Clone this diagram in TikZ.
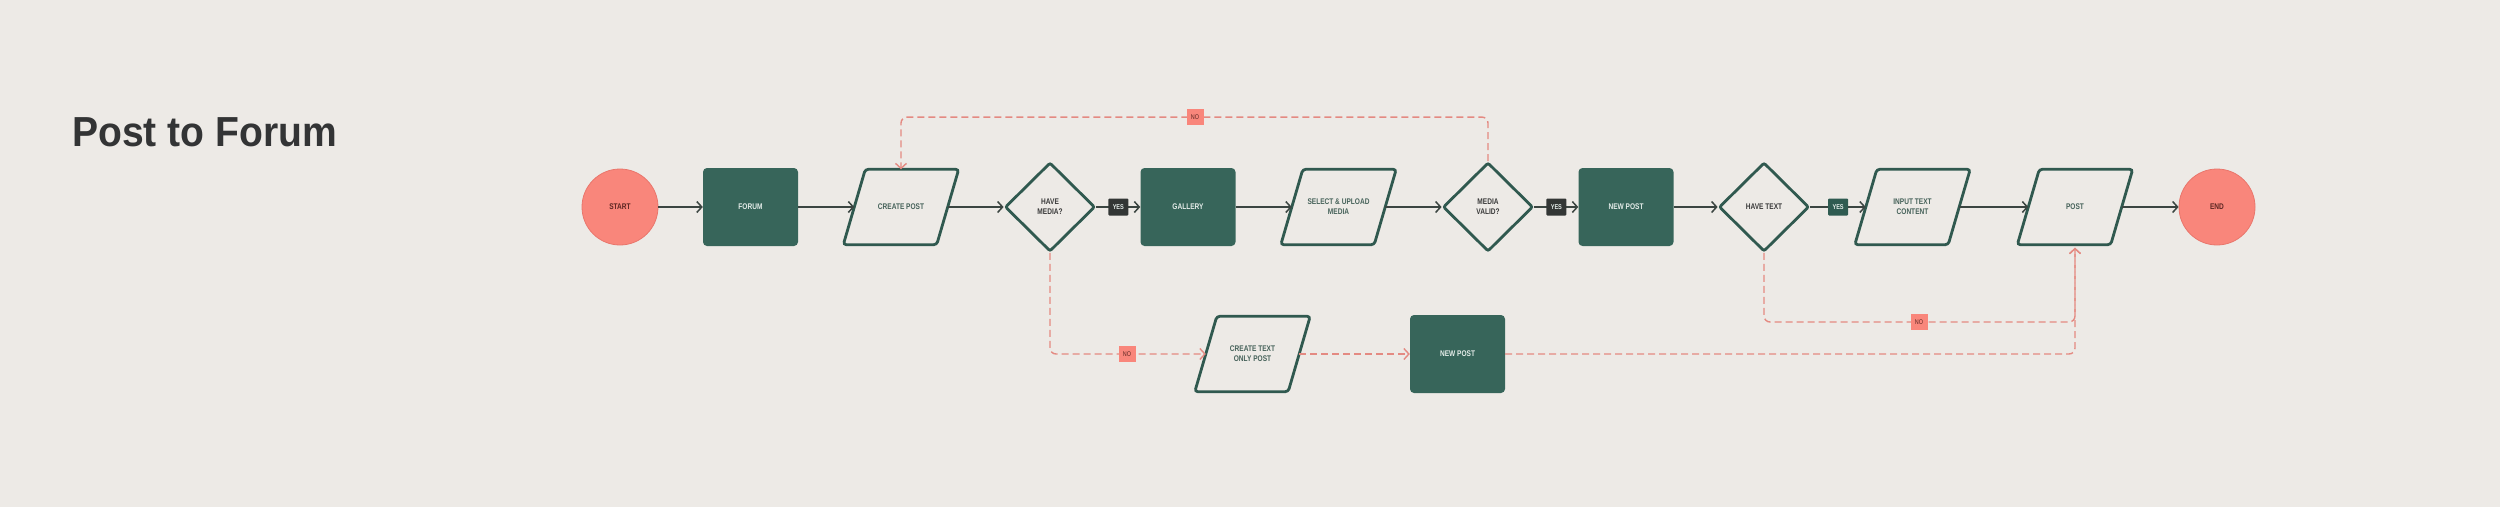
\documentclass[tikz,border=0pt]{standalone}
\usepackage{fontspec}
\newfontfamily\tight[FakeStretch=0.8]{Liberation Sans}
\newfontfamily\titlefont[FakeStretch=0.93]{Liberation Sans}
\usetikzlibrary{shapes.geometric,arrows.meta}
\definecolor{bg}{HTML}{EDEAE6}
\definecolor{salmon}{HTML}{F9867B}
\definecolor{salmonedge}{HTML}{E9766C}
\definecolor{dgreen}{HTML}{37655A}
\definecolor{ogreen}{HTML}{30594F}
\definecolor{lgtext}{HTML}{E4ECE9}
\definecolor{gtext}{HTML}{46625A}
\definecolor{dtext}{HTML}{3A3A3A}
\definecolor{rtext}{HTML}{5C2622}
\definecolor{arr}{HTML}{3B4541}
\definecolor{dashc}{HTML}{E48A82}
\definecolor{yesdark}{HTML}{333635}
\definecolor{yesgreen}{HTML}{2F5B51}
\definecolor{titlec}{HTML}{333435}
\begin{document}
\begin{tikzpicture}[x=1pt,y=-1pt,
  lbl/.style={font=\tight\bfseries\fontsize{8.2}{10}\selectfont, align=center, inner sep=0pt},
  terminal/.style={lbl, circle, fill=salmon, draw=salmonedge, line width=0.8pt, minimum size=76pt, text=rtext},
  procbox/.style={lbl, rectangle, fill=dgreen, rounded corners=4pt, minimum width=95pt, minimum height=78pt, text=lgtext},
  iobox/.style={lbl, rectangle, minimum width=93pt, minimum height=75pt, text=gtext},
  ioline/.style={draw=ogreen, line width=2.8pt, rounded corners=3pt},
  decision/.style={lbl, diamond, minimum width=90pt, minimum height=89pt, draw=ogreen, line width=2.8pt, rounded corners=2pt, text=dtext},
  flow/.style={draw=arr, line width=1.5pt, -{Straight Barb[length=5pt,width=11pt]}},
  dflow/.style={draw=dashc, line width=1.4pt, dash pattern=on 7pt off 4pt, -{Straight Barb[length=5pt,width=11pt]}},
  yeslbl/.style={fill=yesdark, text=lgtext, font=\tight\bfseries\fontsize{7}{8}\selectfont, minimum width=20pt, minimum height=17pt, inner sep=0pt, rounded corners=1pt},
  nolbl/.style={fill=salmon, text=rtext, font=\tight\fontsize{6.8}{8}\selectfont, minimum width=17pt, minimum height=16pt, inner sep=0pt}
]
\fill[bg] (0,0) rectangle (2500,507);
\useasboundingbox (0,0) rectangle (2500,507);

\node[anchor=base west, font=\titlefont\bfseries\fontsize{42}{50}\selectfont, text=titlec, inner sep=0pt] (title) at (72,146) {Post to Forum};

% main row
\node[terminal] (start) at (620,207) {START};
\node[procbox] (forum) at (750.5,207) {FORUM};
\node[iobox] (cpost) at (901,207) {CREATE POST};
\node[decision] (hmedia) at (1050,207) {HAVE\\MEDIA?};
\node[procbox] (gallery) at (1188,207) {GALLERY};
\node[iobox] (select) at (1338.5,207) {SELECT \& UPLOAD\\MEDIA};
\node[decision] (mvalid) at (1488,207) {MEDIA\\VALID?};
\node[procbox] (newpost) at (1626,207) {NEW POST};
\node[decision] (htext) at (1764,207) {HAVE TEXT};
\node[iobox] (input) at (1912.5,207) {INPUT TEXT\\CONTENT};
\node[iobox] (post) at (2075,207) {POST};
\node[terminal] (end) at (2217,207) {END};

% lower row
\node[iobox] (ctext) at (1252.5,354) {CREATE TEXT\\ONLY POST};
\node[procbox] (np2) at (1457.5,354) {NEW POST};

% parallelogram outlines of the input/output nodes
\foreach \n in {cpost,select,input,post,ctext}
  \draw[ioline] ([xshift=-11pt]\n.south west) -- ([xshift=11pt]\n.north west)
     -- ([xshift=11pt]\n.north east) -- ([xshift=-11pt]\n.south east) -- cycle;

% solid flow
\draw[flow] (start.east) -- (forum.west);
\draw[flow] (forum.east) -- (cpost.west);
\draw[flow] (cpost.east) -- (hmedia.west);
\draw[flow] (hmedia.east) -- node[yeslbl]{YES} (gallery.west);
\draw[flow] (gallery.east) -- (select.west);
\draw[flow] (select.east) -- (mvalid.west);
\draw[flow] (mvalid.east) -- node[yeslbl]{YES} (newpost.west);
\draw[flow] (newpost.east) -- (htext.west);
\draw[flow] (htext.east) -- node[yeslbl, fill=yesgreen]{YES} (input.west);
\draw[flow] (input.east) -- (post.west);
\draw[flow] (post.east) -- (end.west);

% dashed NO flows
\draw[dflow, rounded corners=6pt] (mvalid.north) -- ++(0,-44) -| (cpost.north);
\node[nolbl] (no1) at (1195,117) {NO};

\draw[dflow, rounded corners=6pt] (hmedia.south) |- (ctext.west);
\node[nolbl] (no2) at (1127,354) {NO};

\draw[dflow] (ctext.east) -- (np2.west);
\draw[dflow, rounded corners=6pt] (np2.east) -| ([yshift=-3pt]post.south);

\coordinate (tj) at (2075,322);
\draw[dflow, rounded corners=6pt] (htext.south) |- (tj) -- ([yshift=-3pt]post.south);
\node[nolbl] (no3) at (1919,322) {NO};
\end{tikzpicture}
\end{document}
